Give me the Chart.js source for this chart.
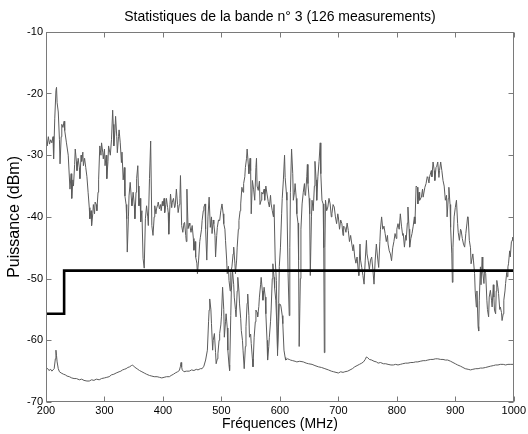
<!DOCTYPE html>
<html>
<head>
<meta charset="utf-8">
<script src="https://cdn.jsdelivr.net/npm/chart.js@4"></script>
<style>
  html, body { margin: 0; padding: 0; background: #fff; }
  canvas { display: block; }
</style>
</head>
<body>
<canvas id="c" width="528" height="434"></canvas>
<script>
// Band 3 statistics.
// [frequency MHz, level dBm]
const maxTrace = [
  [200,-26.5],[202,-28.5],[204,-27],[206,-28.2],[208,-27.5],[210,-28],[212,-27],[213,-30.6],[215,-24],[217,-19.5],
  [218,-19],[219,-21.5],[221,-23],[223,-27.5],[224,-31.4],[226,-27],[227,-25],[229,-25.5],[231,-24.5],[232,-26],
  [235,-28],[238,-30],[241,-35.5],[243,-33],[244,-37],[246,-34],[247,-35],[249,-31.5],[250,-29],[252,-31],
  [253,-32.5],[255,-30.5],[257,-32],[258,-33.8],[260,-30],[261,-31],[263,-29.5],[264,-31.7],[266,-30.5],[268,-32],
  [270,-33.5],[272,-36],[274,-38.5],[275,-40.3],[277,-39],[278,-41.4],[280,-39.5],[281,-38],[283,-39.5],[284,-37.6],
  [286,-38],[287,-39],[289,-36],[290,-34],[292,-28.5],[294,-30],[295,-28],[297,-29.5],[298,-30.6],[300,-29],
  [301,-31.7],[303,-30],[304,-33.8],[306,-31],[307,-28.5],[309,-29.5],[310,-30],[312,-27.5],[314,-22.7],[315,-25],
  [316,-28.5],[318,-26],[319,-23.7],[321,-27],[322,-29.6],[324,-27],[325,-25.9],[327,-28],[329,-31.2],[330,-29.5],
  [332,-34],[334,-32],[335,-36.6],[337,-38],[338,-40.3],[339,-45.7],[341,-40],[342,-36.6],[344,-34.4],[346,-37],
  [347,-38.2],[349,-36],[351,-38],[352,-40.3],[354,-36],[355,-33.8],[357,-31.7],[358,-35],[359,-38.2],[361,-37],
  [362,-40.8],[364,-39],[366,-46.7],[368,-48.3],[370,-40.3],[372,-38.2],[374,-40],[375,-41.4],[377,-33.8],[379,-27.7],
  [381,-41.4],[383,-43],[385,-40],[386,-38.2],[388,-39.5],[389,-38.7],[391,-38],[392,-37.6],[394,-38.7],[396,-38],
  [397,-39],[399,-37.5],[400,-38.2],[402,-37],[403,-39.3],[405,-38],[406,-37],[408,-38.5],[409,-39.3],[410,-42.8],
  [412,-38],[413,-36.3],[415,-38.5],[416,-37.6],[418,-37],[420,-38.5],[421,-38.2],[423,-35.5],[425,-38],[426,-39.3],
  [428,-38],[429,-37],[430,-33.3],[432,-41.4],[434,-42.5],[436,-41],[437,-40.9],[439,-43],[440,-44],[441,-35.5],
  [443,-41.9],[445,-41],[446,-41.4],[448,-42.5],[450,-41.4],[452,-43.5],[453,-45.4],[455,-44],[456,-46.5],[458,-47.5],
  [459,-49.2],[461,-47],[463,-44],[464,-43.3],[466,-42],[467,-40.6],[469,-39],[470,-38.4],[472,-37.9],[473,-42],
  [475,-47],[477,-40],[479,-36.8],[481,-41.7],[483,-40],[484,-42.7],[486,-40.5],[487,-41.1],[489,-43],[490,-46.5],
  [492,-43],[493,-41.7],[495,-40.5],[497,-40.6],[499,-39],[501,-37.9],[503,-39.5],[504,-41.1],[506,-42],[507,-43.8],
  [509,-47],[510,-49.2],[512,-48],[513,-50.3],[515,-52],[516,-49],[518,-48.1],[520,-46],[521,-44.9],[523,-47.5],
  [524,-49.2],[526,-47],[527,-44.9],[529,-42],[530,-40.6],[532,-39],[533,-37.9],[535,-35.2],[537,-36],[538,-34.6],
  [540,-33.5],[541,-32],[543,-30.5],[544,-29],[546,-31.5],[547,-33],[549,-30.5],[550,-32.5],[551,-39.5],[553,-34.1],
  [555,-35.5],[557,-37.3],[559,-32],[560,-30.5],[561,-35],[563,-35.7],[565,-34.2],[566,-38],[568,-37.3],[569,-36],
  [571,-36.3],[573,-35.5],[574,-37.3],[576,-35],[578,-36.3],[580,-37.5],[582,-38.4],[584,-36.5],[585,-37.9],[587,-39],
  [589,-40],[590,-38],[592,-47],[594,-50.3],[596,-62.5],[598,-54],[599,-48],[601,-44.9],[603,-39.5],[604,-37],
  [606,-34],[608,-30],[609,-33.6],[611,-36],[612,-37.3],[614,-49.2],[616,-56],[617,-45],[618,-36],[620,-29],
  [622,-33],[623,-37.3],[625,-36],[626,-34.6],[628,-37],[629,-39.5],[631,-41],[632,-47],[633,-61],[635,-50],
  [636,-42],[638,-37.9],[640,-36],[642,-34.6],[643,-36.5],[644,-36.3],[646,-33.5],[647,-31.5],[648,-34.6],[650,-37],
  [651,-39.5],[652,-49.5],[654,-40],[655,-37.3],[657,-39],[659,-35],[660,-31],[662,-34],[663,-37.3],[665,-33.5],
  [667,-31],[669,-28],[670,-33],[672,-37.3],[674,-37.9],[675,-45],[676,-62],[677,-45],[678,-37.3],[680,-39],
  [682,-38.4],[684,-37],[686,-37.9],[688,-40],[689,-39.5],[691,-38],[693,-38.4],[695,-40],[697,-41.1],[699,-39.5],
  [700,-40],[702,-42],[704,-40.5],[706,-41.1],[708,-43],[709,-41.5],[711,-41.7],[713,-42.5],[715,-41],[717,-42.2],
  [719,-44],[721,-43],[723,-44.4],[725,-45.5],[726,-44.5],[728,-46.5],[730,-47.5],[732,-46.5],[734,-48.7],[735,-49.5],
  [737,-44.4],[738,-47],[740,-48.2],[742,-49.5],[744,-50.9],[746,-47],[748,-43.8],[749,-46],[751,-47.1],[753,-48.5],
  [755,-47],[757,-46.5],[759,-48.5],[761,-50.9],[763,-47],[765,-44.4],[767,-46.5],[769,-48.2],[771,-44],[772,-42],
  [774,-40],[776,-42],[778,-41.5],[780,-42.7],[782,-44],[784,-43],[785,-44.4],[787,-45.5],[789,-46],[791,-47.1],
  [793,-45],[795,-44],[797,-42.7],[799,-43.5],[800,-42],[802,-41.1],[804,-42],[806,-39.5],[808,-41.5],[810,-43],
  [811,-42.7],[813,-44.9],[815,-43],[816,-43.8],[818,-41],[819,-38.4],[821,-42],[822,-44.9],[824,-43.5],[826,-42.7],
  [828,-41.5],[830,-40],[831,-41.1],[833,-35],[835,-35.2],[836,-37.9],[838,-36],[839,-37.3],[842,-36.8],[844,-35.5],
  [845,-36.8],[848,-35.2],[850,-34.6],[852,-33.5],[853,-33.6],[855,-34.5],[856,-33.5],[859,-32.5],[860,-33.5],[862,-31.1],
  [864,-32.5],[865,-34.1],[867,-32],[868,-31.9],[870,-31.1],[872,-33.6],[873,-32.5],[875,-31.1],[877,-32.5],[879,-34.1],
  [881,-35],[883,-37.3],[885,-36.5],[886,-40],[888,-37],[889,-35.2],[891,-38],[892,-41.7],[894,-46],[895,-50.6],
  [896,-45],[898,-40],[900,-38.5],[902,-37.3],[904,-41.1],[905,-42.5],[907,-43.8],[909,-42],[910,-42.2],[912,-43.5],
  [914,-44.4],[916,-44.9],[918,-42.7],[920,-41],[921,-40],[922,-40],[924,-43.8],[926,-45],[927,-47.6],[928,-47.6],
  [930,-46],[931,-47],[933,-49.2],[934,-52],[936,-54.6],[937,-52],[939,-57.8],[940,-58.5],[941,-53.5],[943,-48.1],
  [944,-51],[946,-46.5],[947,-49],[949,-50.8],[950,-48.5],[952,-49.2],[954,-53.5],[955,-55],[957,-56.2],[958,-53],
  [960,-51.9],[962,-53.5],[963,-54.6],[965,-51],[966,-53],[967,-55.1],[969,-55.7],[970,-52],[971,-50.3],[973,-51.5],
  [974,-52.4],[976,-55],[977,-54.6],[979,-55.5],[980,-56.8],[982,-55.7],[983,-53.5],[985,-52],[986,-50.8],[988,-49],
  [989,-49.7],[990,-48.1],[991,-47.6],[993,-45.5],[994,-46.5],[996,-44],[997,-43.8],[998,-43.3],[1000,-44.4]
];

const minTrace = [
  [200,-64.4],[203,-64.6],[205,-64.9],[208,-64.7],[210,-65],[212,-64.8],[214,-64.6],[216,-63],[217,-61.6],[218,-62.5],
  [219,-63.5],[221,-64.6],[223,-65.1],[226,-65.3],[230,-65.5],[233,-65.6],[236,-65.8],[240,-65.9],[244,-66.1],[248,-66.2],
  [252,-66.2],[257,-66.4],[261,-66.3],[265,-66.5],[270,-66.6],[274,-66.6],[278,-66.4],[282,-66.5],[286,-66.3],[291,-66.4],
  [295,-66.2],[300,-66.1],[304,-66],[308,-65.9],[312,-65.6],[316,-65.5],[320,-65.3],[325,-65.1],[328,-65],[331,-64.8],
  [334,-64.7],[337,-64.6],[340,-64.4],[343,-64.3],[346,-64.1],[348,-64],[351,-64.3],[354,-64.5],[357,-64.7],[360,-64.9],
  [364,-65.1],[368,-65.3],[372,-65.5],[377,-65.7],[381,-65.8],[385,-65.9],[390,-65.9],[394,-66],[398,-66.1],[402,-66],
  [406,-65.9],[411,-65.9],[414,-65.7],[418,-65.5],[421,-65.3],[425,-65.1],[428,-64.9],[430,-64.2],[431,-63.6],[432,-64.3],
  [433,-64.8],[436,-65.1],[440,-65],[445,-65],[449,-64.8],[453,-64.9],[457,-64.7],[460,-64.8],[464,-64.6],[467,-64.6],
  [470,-64.2],[473,-63.2],[476,-61.6],[478,-57],[479,-55.1],[480,-53.3],[482,-55],[483,-57.3],[485,-61.6],[486,-60],
  [488,-58.9],[490,-62],[491,-63.8],[493,-63],[494,-62.2],[496,-60],[497,-58.9],[499,-57.5],[500,-56.2],[502,-51.4],
  [504,-55],[505,-59.5],[507,-57],[508,-55.7],[510,-58],[511,-61.6],[513,-64],[514,-64.9],[516,-56],[517,-51.9],
  [519,-48.7],[521,-51],[522,-53],[524,-55],[525,-56.2],[527,-52],[528,-49.8],[530,-52],[531,-54.1],[533,-56.5],
  [534,-58.4],[536,-60],[537,-61.6],[539,-64.6],[541,-61],[542,-57.8],[544,-54],[545,-52.5],[547,-56],[548,-59.5],
  [550,-59],[551,-60.5],[553,-63],[554,-64.3],[556,-59.5],[558,-57],[559,-55.1],[561,-55.5],[562,-56.2],[564,-54.5],
  [565,-53],[567,-51],[568,-49.8],[570,-52],[571,-53.5],[573,-51.4],[575,-53],[576,-55.7],[578,-60],[579,-63.2],
  [581,-61],[582,-59.5],[584,-57],[585,-55.1],[587,-50],[588,-47.6],[590,-49.8],[591,-51.5],[593,-53.5],[595,-58],
  [596,-61.6],[598,-57],[599,-54.1],[601,-54.2],[602,-54.6],[604,-56],[605,-57.3],[607,-61.6],[609,-62.8],[610,-63.2],
  [613,-63],[616,-63.1],[618,-63.2],[622,-63.3],[626,-63.4],[629,-63.5],[634,-63.4],[640,-63.5],[645,-63.7],[649,-63.8],
  [655,-63.9],[660,-64.1],[666,-64.3],[671,-64.4],[677,-64.6],[683,-64.8],[688,-65],[692,-65.1],[696,-65.2],[700,-65.3],
  [704,-65.1],[708,-65.2],[711,-65.1],[716,-65],[720,-64.8],[724,-64.6],[728,-64.3],[732,-64.1],[736,-63.9],[740,-63.7],
  [743,-63.5],[746,-63.1],[748,-62.7],[750,-62.8],[753,-63.1],[757,-63.2],[761,-63.4],[765,-63.5],[768,-63.7],[772,-63.6],
  [777,-63.8],[781,-63.8],[785,-63.9],[790,-64],[794,-64],[798,-63.9],[802,-64],[806,-63.9],[810,-63.8],[815,-63.7],
  [819,-63.7],[824,-63.6],[828,-63.6],[832,-63.5],[836,-63.5],[840,-63.4],[845,-63.3],[849,-63.3],[853,-63.2],[858,-63.1],
  [862,-63.1],[866,-63],[870,-63],[875,-63.1],[879,-63.1],[883,-63.2],[887,-63.2],[892,-63.4],[896,-63.6],[900,-63.8],
  [904,-64],[909,-64.2],[913,-64.4],[917,-64.6],[922,-64.7],[926,-64.8],[930,-64.7],[935,-64.6],[939,-64.6],[943,-64.5],
  [947,-64.5],[952,-64.4],[956,-64.3],[960,-64.2],[965,-64.1],[969,-64],[973,-64],[977,-63.9],[982,-63.9],[986,-64],
  [990,-63.9],[995,-63.9],[1000,-63.9]
];

// detection threshold (thick black step)
const thresholdFreq = [200, 231, 231, 1000];
const thresholdLevel = [-55.7, -55.7, -48.7, -48.7];

const xTicks = [200, 300, 400, 500, 600, 700, 800, 900, 1000];
const yTicks = [-70, -60, -50, -40, -30, -20, -10];

const FONT = "'Liberation Sans', Arial, Helvetica, sans-serif";
const AXIS = "#7a7a7a";
const TRACE = "#5c5c5c";

const toPoints = (rows) => rows.map(([f, v]) => ({ x: f, y: v }));

// MATLAB-style box with ticks pointing inward on all four sides
const axisBox = {
  id: "axisBox",
  afterDraw(chart) {
    const { ctx, chartArea: a, scales } = chart;
    const L = Math.round(a.left) + 0.5, R = Math.round(a.right) - 0.5;
    const T = Math.round(a.top) + 0.5, B = Math.round(a.bottom) - 0.5;
    const len = 5;
    ctx.save();
    ctx.strokeStyle = AXIS;
    ctx.lineWidth = 1;
    ctx.strokeRect(L, T, R - L, B - T);
    ctx.beginPath();
    xTicks.forEach((v) => {
      const x = Math.round(scales.x.getPixelForValue(v)) + 0.5;
      ctx.moveTo(x, B); ctx.lineTo(x, B - len);
      ctx.moveTo(x, T); ctx.lineTo(x, T + len);
    });
    yTicks.forEach((v) => {
      const y = Math.round(scales.y.getPixelForValue(v)) + 0.5;
      ctx.moveTo(L, y); ctx.lineTo(L + len, y);
      ctx.moveTo(R, y); ctx.lineTo(R - len, y);
    });
    ctx.stroke();
    ctx.restore();
  },
};

new Chart(document.getElementById("c"), {
  type: "line",
  data: {
    datasets: [
      {
        data: thresholdFreq.map((f, i) => ({ x: f, y: thresholdLevel[i] })),
        borderColor: "#000",
        borderWidth: 2.6,
      },
      {
        data: toPoints(maxTrace),
        borderColor: TRACE,
        borderWidth: 1,
      },
      {
        data: toPoints(minTrace),
        borderColor: TRACE,
        borderWidth: 1,
      },
    ],
  },
  options: {
    responsive: false,
    animation: false,
    parsing: false,
    elements: { point: { radius: 0 }, line: { tension: 0 } },
    layout: { padding: { left: 0, right: 12, top: 0, bottom: 0 } },
    plugins: {
      legend: { display: false },
      tooltip: { enabled: false },
      title: {
        display: true,
        fullSize: false,
        text: "Statistiques de la bande n° 3 (126 measurements)",
        color: "#000",
        font: { family: FONT, size: 14, weight: "normal" },
        padding: { top: 9, bottom: 6 },
      },
    },
    scales: {
      x: {
        type: "linear",
        min: 200,
        max: 1000,
        afterFit(s) { s.height = 32; },
        afterBuildTicks(s) { s.ticks = xTicks.map((v) => ({ value: v })); },
        grid: { display: false, drawTicks: false },
        border: { display: false },
        ticks: {
          color: "#000",
          padding: 2,
          maxRotation: 0,
          font: { family: FONT, size: 11 },
          callback: (v) => String(v),
        },
        title: {
          display: true,
          text: "Fréquences (MHz)",
          color: "#000",
          font: { family: FONT, size: 14 },
          padding: { top: 0, bottom: 1 },
        },
      },
      y: {
        type: "linear",
        min: -70,
        max: -10,
        afterFit(s) { s.width = 46; },
        afterBuildTicks(s) { s.ticks = yTicks.map((v) => ({ value: v })); },
        grid: { display: false, drawTicks: false },
        border: { display: false },
        ticks: {
          color: "#000",
          padding: 3,
          font: { family: FONT, size: 11 },
          callback: (v) => String(v),
        },
        title: {
          display: true,
          text: "Puissance (dBm)",
          color: "#000",
          font: { family: FONT, size: 16 },
          padding: { top: 5, bottom: 0 },
        },
      },
    },
  },
  plugins: [axisBox],
});
</script>
</body>
</html>
